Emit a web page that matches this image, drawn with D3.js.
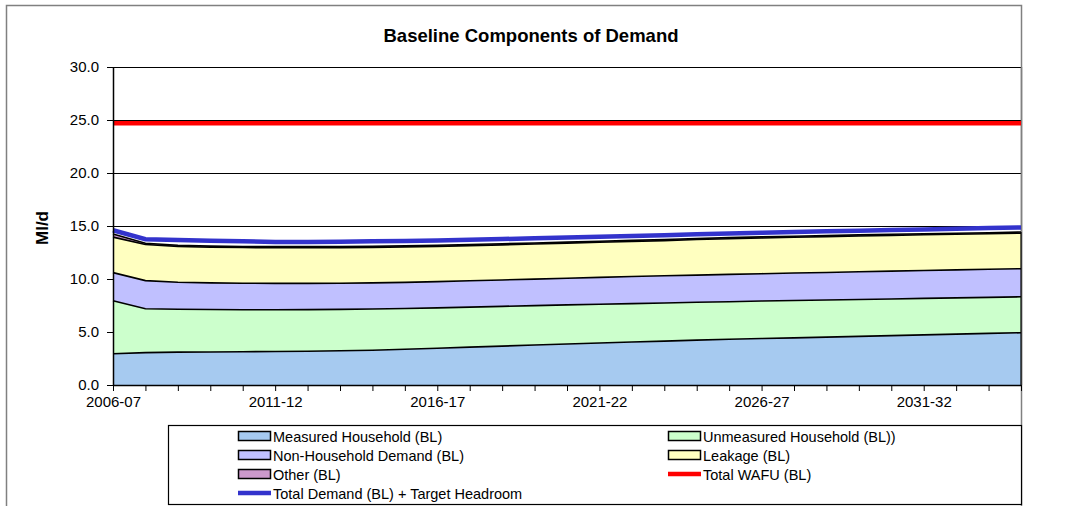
<!DOCTYPE html>
<html><head><meta charset="utf-8">
<script src="https://cdn.jsdelivr.net/npm/d3@7"></script>
<style>
html,body{margin:0;padding:0;background:#fff;}
svg{display:block;font-family:"Liberation Sans",Arial,sans-serif;}
</style></head>
<body>
<svg id="chart" width="1069" height="506"></svg>
<script>
const years = ["2006-07","2007-08","2008-09","2009-10","2010-11","2011-12","2012-13","2013-14","2014-15","2015-16",
"2016-17","2017-18","2018-19","2019-20","2020-21","2021-22","2022-23","2023-24","2024-25","2025-26",
"2026-27","2027-28","2028-29","2029-30","2030-31","2031-32","2032-33","2033-34","2034-35"];
const yTicks = [0,5,10,15,20,25,30];
// individual component values (Ml/d)
const measured = [2.95,3.05,3.10,3.12,3.14,3.16,3.19,3.23,3.28,3.37,3.47,3.57,3.67,3.77,3.87,3.96,4.05,4.14,4.23,4.31,4.38,4.45,4.52,4.59,4.66,4.73,4.80,4.87,4.93];
const unmeasured = [5.00,4.15,4.05,4.00,3.96,3.94,3.92,3.90,3.89,3.85,3.81,3.78,3.75,3.72,3.69,3.66,3.63,3.60,3.57,3.55,3.54,3.52,3.50,3.48,3.46,3.44,3.42,3.40,3.39];
const nonHousehold = [2.65,2.65,2.55,2.51,2.50,2.49,2.48,2.47,2.46,2.46,2.47,2.48,2.49,2.50,2.51,2.53,2.55,2.56,2.57,2.58,2.58,2.59,2.60,2.61,2.62,2.63,2.64,2.65,2.65];
const leakage = [3.35,3.40,3.38,3.37,3.37,3.36,3.36,3.36,3.35,3.35,3.33,3.32,3.31,3.31,3.31,3.31,3.31,3.32,3.35,3.36,3.37,3.38,3.38,3.38,3.38,3.37,3.36,3.35,3.35];
const other = [0.30,0.12,0.10,0.10,0.10,0.10,0.10,0.10,0.10,0.10,0.10,0.10,0.10,0.10,0.10,0.10,0.10,0.10,0.10,0.10,0.10,0.10,0.10,0.10,0.10,0.10,0.10,0.10,0.11];
const totalWAFU = [24.7,24.7,24.7,24.7,24.7,24.7,24.7,24.7,24.7,24.7,24.7,24.7,24.7,24.7,24.7,24.7,24.7,24.7,24.7,24.7,24.7,24.7,24.7,24.7,24.7,24.7,24.7,24.7,24.7];
const totalDemandHeadroom = [14.60,13.75,13.68,13.62,13.55,13.50,13.50,13.52,13.55,13.58,13.63,13.70,13.77,13.85,13.92,13.98,14.05,14.13,14.22,14.30,14.37,14.43,14.50,14.56,14.62,14.68,14.74,14.80,14.87];

const areaNames = ["Measured Household (BL)","Unmeasured Household (BL))","Non-Household Demand (BL)","Leakage (BL)","Other (BL)"];
const areaSeries = [measured, unmeasured, nonHousehold, leakage, other];
const areaColors = ["#A6CAF0","#CCFFCC","#C0C0FF","#FFFFC0","#CC99CC"];

const svg = d3.select("#chart");
const W = 1069, H = 506;
const L = 113, R = 1021, T = 67, B = 385;

// outer chart border
svg.append("rect").attr("x",6.5).attr("y",5.5).attr("width",1021-6).attr("height",H+10)
  .attr("fill","#fff").attr("stroke","#808080").attr("stroke-width",1.5);

const x = d3.scaleLinear().domain([0, years.length-1]).range([L, R]);
const y = d3.scaleLinear().domain([0, 30]).range([B, T]);

// gridlines
svg.append("g").selectAll("line").data(yTicks).join("line")
  .attr("x1",L).attr("x2",R).attr("y1",d=>Math.round(y(d))+0.5).attr("y2",d=>Math.round(y(d))+0.5)
  .attr("stroke","#000").attr("stroke-width",1);

// plot area right border
svg.append("line").attr("x1",R+0.5).attr("x2",R+0.5).attr("y1",T).attr("y2",B)
  .attr("stroke","#808080").attr("stroke-width",1.5);

// stacked areas
const rows = years.map((yr,i)=>{ const o={i}; areaSeries.forEach((s,k)=>o["s"+k]=s[i]); return o; });
const stack = d3.stack().keys(areaSeries.map((s,k)=>"s"+k));
const stacked = stack(rows);
const area = d3.area().x(d=>x(d.data.i)).y0(d=>y(d[0])).y1(d=>y(d[1]));
const topLine = d3.line().x(d=>x(d.data.i)).y(d=>y(d[1]));
svg.append("g").selectAll("path").data(stacked).join("path")
  .attr("d",area).attr("fill",(d,k)=>areaColors[k]).attr("stroke","none");
svg.append("g").selectAll("path").data(stacked).join("path")
  .attr("d",topLine).attr("fill","none").attr("stroke","#000").attr("stroke-width",1.6);
// right edge of areas
svg.append("line").attr("x1",R).attr("x2",R).attr("y1",y(0)).attr("y2",y(stacked[4][years.length-1][1]))
  .attr("stroke","#000").attr("stroke-width",1.2);

// lines
const line = d3.line().x((d,i)=>x(i)).y(d=>y(d));
svg.append("path").datum(totalWAFU).attr("d",line).attr("fill","none").attr("stroke","#FF0000").attr("stroke-width",4.5);
svg.append("path").datum(totalDemandHeadroom).attr("d",line).attr("fill","none").attr("stroke","#3333CC").attr("stroke-width",4.5);

// axes
const yAxis = d3.axisLeft(y).tickValues(yTicks).tickFormat(d3.format(".1f")).tickSize(6).tickSizeOuter(0).tickPadding(8);
const gy = svg.append("g").attr("transform",`translate(${L},0)`).call(yAxis);
const xAxis = d3.axisBottom(x).tickValues(d3.range(years.length)).tickFormat(i=> i%5===0 ? years[i] : "").tickSize(6).tickSizeOuter(0).tickPadding(5);
const gx = svg.append("g").attr("transform",`translate(0,${B})`).call(xAxis);
[gx,gy].forEach(g=>{
  g.select(".domain").attr("stroke","#000").attr("stroke-width",1.5);
  g.selectAll(".tick line").attr("stroke","#000");
  g.selectAll("text").attr("fill","#000").style("font-family",'"Liberation Sans",Arial,sans-serif').style("font-size","15px");
});

// title
svg.append("text").attr("x",531).attr("y",41.5).attr("text-anchor","middle")
  .style("font-weight","bold").style("font-size","18.5px").text("Baseline Components of Demand");
// y label
svg.append("text").attr("transform","translate(48,228) rotate(-90)").attr("text-anchor","middle")
  .style("font-weight","bold").style("font-size","17px").text("Ml/d");

// legend
svg.append("rect").attr("x",168.5).attr("y",425.5).attr("width",1021-168).attr("height",79)
  .attr("fill","#fff").attr("stroke","#000").attr("stroke-width",1.2);
const legendItems = [
  {name:areaNames[0], type:"rect", color:areaColors[0], col:0, row:0},
  {name:areaNames[1], type:"rect", color:areaColors[1], col:1, row:0},
  {name:areaNames[2], type:"rect", color:areaColors[2], col:0, row:1},
  {name:areaNames[3], type:"rect", color:areaColors[3], col:1, row:1},
  {name:areaNames[4], type:"rect", color:areaColors[4], col:0, row:2},
  {name:"Total WAFU (BL)", type:"line", color:"#FF0000", col:1, row:2},
  {name:"Total Demand (BL) + Target Headroom", type:"line", color:"#3333CC", col:0, row:3}
];
const colX = [238, 668], rowY = [436, 455, 474, 493];
const lg = svg.append("g").selectAll("g").data(legendItems).join("g")
  .attr("transform",d=>`translate(${colX[d.col]},${rowY[d.row]})`);
lg.filter(d=>d.type==="rect").append("rect").attr("x",0.5).attr("y",-4.5).attr("width",32).attr("height",9)
  .attr("fill",d=>d.color).attr("stroke","#000").attr("stroke-width",1.5);
lg.filter(d=>d.type==="line").append("line").attr("x1",0).attr("x2",33).attr("y1",0).attr("y2",0)
  .attr("stroke",d=>d.color).attr("stroke-width",4.5);
lg.append("text").attr("x",35).attr("y",5.5).style("font-size","14.5px").attr("fill","#000").text(d=>d.name);
</script>
</body></html>
